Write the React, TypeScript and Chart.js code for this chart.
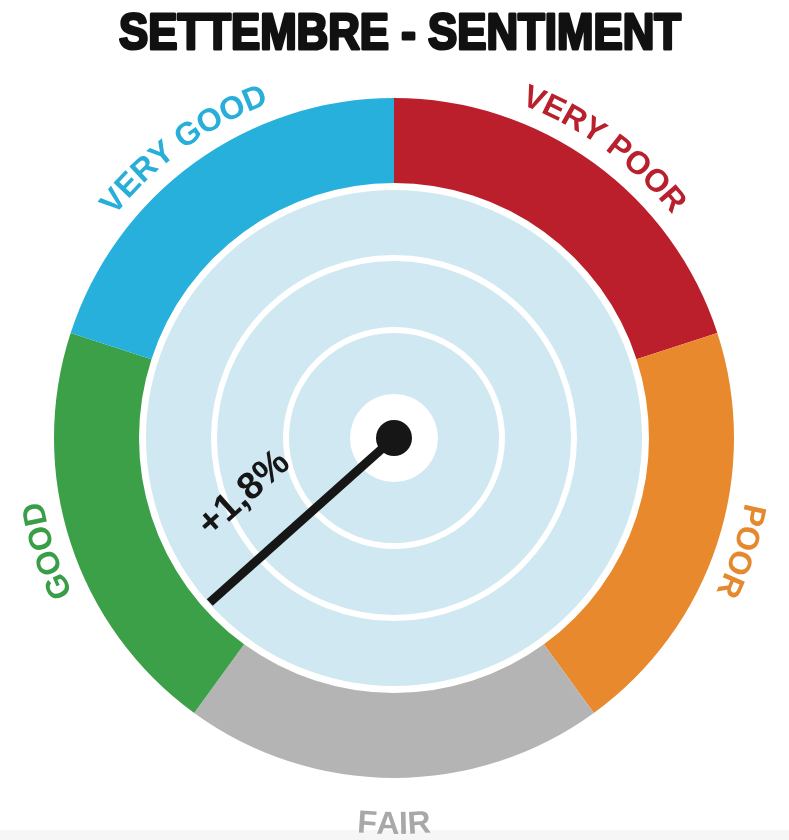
import React, { useEffect, useRef } from "react";
import { Chart, registerables } from "chart.js";

Chart.register(...registerables);

const TITLE = "SETTEMBRE - SENTIMENT";
const categories = ["VERY POOR", "POOR", "FAIR", "GOOD", "VERY GOOD"];
const segmentValues = [1, 1, 1, 1, 1];
const segmentColors = ["#bc1f2c", "#e9892d", "#b4b4b4", "#3ba047", "#28b0dc"];
const labelColors = ["#b8202d", "#e5892f", "#a8a8a8", "#3a9e48", "#27aed9"];
const needleValue = [3.17];
const needleLabel = "+1,8%";

function drawArcText(
  ctx: CanvasRenderingContext2D,
  text: string,
  cx: number,
  cy: number,
  r: number,
  mid: number,
  flip: boolean
) {
  const widths = Array.from(text).map((ch) => ctx.measureText(ch).width);
  const total = widths.reduce((a, b) => a + b, 0) / r;
  let a = flip ? mid + total / 2 : mid - total / 2;
  ctx.textAlign = "center";
  ctx.textBaseline = "alphabetic";
  Array.from(text).forEach((ch, i) => {
    const half = widths[i] / 2 / r;
    a = flip ? a - half : a + half;
    ctx.save();
    ctx.translate(cx + r * Math.cos(a), cy + r * Math.sin(a));
    ctx.rotate(flip ? a - Math.PI / 2 : a + Math.PI / 2);
    ctx.fillText(ch, 0, 0);
    ctx.restore();
    a = flip ? a - half : a + half;
  });
}

const gaugePlugin = {
  id: "gaugeDecor",
  beforeDraw(chart: any) {
    const ctx: CanvasRenderingContext2D = chart.ctx;
    ctx.save();
    ctx.fillStyle = "#f6f6f6";
    ctx.fillRect(0, 830, chart.width, chart.height - 830);
    ctx.restore();
  },
  afterDraw(chart: any) {
    const ctx: CanvasRenderingContext2D = chart.ctx;
    const meta = chart.getDatasetMeta(0);
    const arc0 = meta.data[0];
    const cx = arc0.x;
    const cy = arc0.y;
    const outer = arc0.outerRadius;
    ctx.save();

    // title
    ctx.font = "bold 50px 'Liberation Sans', Arial, sans-serif";
    ctx.fillStyle = "#111111";
    ctx.strokeStyle = "#111111";
    ctx.lineWidth = 3;
    ctx.lineJoin = "round";
    ctx.textAlign = "center";
    ctx.textBaseline = "alphabetic";
    const tw = ctx.measureText(TITLE).width;
    const sx = 562 / tw;
    ctx.save();
    ctx.translate(400, 49);
    ctx.scale(sx, 1);
    ctx.fillText(TITLE, 0, 0);
    ctx.strokeText(TITLE, 0, 0);
    ctx.restore();

    // inner disc
    ctx.beginPath();
    ctx.arc(cx, cy, 248, 0, Math.PI * 2);
    ctx.fillStyle = "#cfe8f1";
    ctx.fill();

    // white rings
    ctx.strokeStyle = "#ffffff";
    ctx.lineWidth = 6;
    [108, 180].forEach((r) => {
      ctx.beginPath();
      ctx.arc(cx, cy, r, 0, Math.PI * 2);
      ctx.stroke();
    });
    ctx.beginPath();
    ctx.arc(cx, cy, 44, 0, Math.PI * 2);
    ctx.fillStyle = "#ffffff";
    ctx.fill();

    // labels
    ctx.font = "bold 32px 'Liberation Sans', Arial, sans-serif";
    meta.data.forEach((el: any, i: number) => {
      const mid = (el.startAngle + el.endAngle) / 2;
      const s = Math.sin(mid);
      const flip = s > 0.9;
      ctx.fillStyle = labelColors[i];
      drawArcText(ctx, categories[i], cx, cy, flip ? outer + 56 : outer + 17, mid, flip);
    });

    // needle
    const total = segmentValues.reduce((a, b) => a + b, 0);
    const ang = -Math.PI / 2 + (needleValue[0] / total) * Math.PI * 2;
    ctx.strokeStyle = "#161616";
    ctx.lineWidth = 9;
    ctx.lineCap = "butt";
    ctx.beginPath();
    ctx.moveTo(cx, cy);
    ctx.lineTo(cx + 247 * Math.cos(ang), cy + 247 * Math.sin(ang));
    ctx.stroke();
    ctx.beginPath();
    ctx.arc(cx, cy, 18, 0, Math.PI * 2);
    ctx.fillStyle = "#161616";
    ctx.fill();

    // needle label
    const rev = ang + Math.PI;
    const perp = rev - Math.PI / 2;
    const lx = cx + 149 * Math.cos(ang) + 58 * Math.cos(perp);
    const ly = cy + 149 * Math.sin(ang) + 58 * Math.sin(perp);
    ctx.save();
    ctx.translate(lx, ly);
    ctx.rotate(rev);
    ctx.font = "bold 38px 'Liberation Sans', Arial, sans-serif";
    ctx.fillStyle = "#161616";
    ctx.textAlign = "center";
    ctx.textBaseline = "middle";
    ctx.fillText(needleLabel, 0, 0);
    ctx.restore();

    ctx.restore();
  },
};

export default function App() {
  const ref = useRef<HTMLCanvasElement | null>(null);
  useEffect(() => {
    if (!ref.current) return;
    const chart = new Chart(ref.current, {
      type: "doughnut",
      data: {
        labels: categories,
        datasets: [
          {
            data: segmentValues,
            backgroundColor: segmentColors,
            borderWidth: 0,
            hoverOffset: 0,
          },
        ],
      },
      options: {
        responsive: false,
        maintainAspectRatio: false,
        devicePixelRatio: 1,
        animation: false,
        events: [],
        rotation: 0,
        circumference: 360,
        cutout: "75%",
        layout: { padding: { top: 98, left: 54, right: 55, bottom: 62 } },
        plugins: { legend: { display: false }, tooltip: { enabled: false }, title: { display: false } },
      },
      plugins: [gaugePlugin],
    } as any);
    return () => chart.destroy();
  }, []);
  return (
    <div style={{ position: "absolute", left: 0, top: 0, width: 789, height: 840, background: "#ffffff" }}>
      <canvas ref={ref} width={789} height={840} style={{ width: 789, height: 840, display: "block" }} />
    </div>
  );
}
